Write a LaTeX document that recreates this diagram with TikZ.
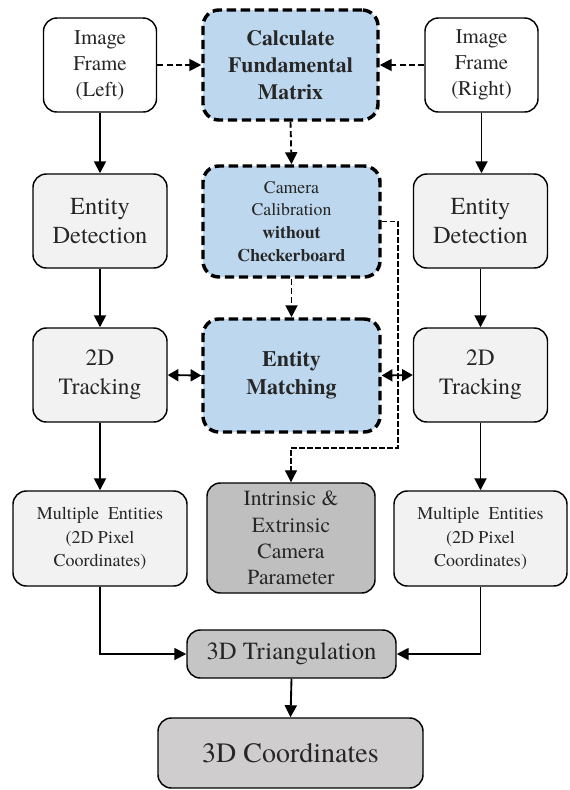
\documentclass[tikz,border=0pt]{standalone}
\usepackage{fontspec}
\setmainfont{texgyretermes}[Extension=.otf, UprightFont=*-regular, BoldFont=*-bold, ItalicFont=*-italic, BoldItalicFont=*-bolditalic]
\usetikzlibrary{arrows.meta}
\definecolor{blueF}{HTML}{BDD7EE}
\definecolor{greyL}{HTML}{F2F2F2}
\definecolor{greyD}{HTML}{BFBFBF}
\definecolor{greyT}{HTML}{C6C5C5}
\definecolor{greyC}{HTML}{CFCDCD}
\definecolor{txt}{HTML}{262626}
\newcommand\fsz[2]{\fontsize{#1}{#2}\selectfont}
\begin{document}
\begin{tikzpicture}[x=0.75pt,y=-0.75pt,
  sz/.style 2 args={minimum width=#1*0.75pt, minimum height=#2*0.75pt},
  base/.style={draw=black, rounded corners=10pt, align=center, text=txt, inner sep=1pt, line width=1.1pt},
  wbox/.style={base, fill=white},
  lbox/.style={base, fill=greyL},
  bbox/.style={base, fill=blueF, line width=2.6pt, dash pattern=on 7pt off 3.5pt, rounded corners=12pt},
  arr/.style={line width=1.4pt, -{Triangle[length=9pt,width=9pt]}},
  darr/.style={line width=1.4pt, dash pattern=on 4.5pt off 2.5pt, -{Triangle[length=9pt,width=9pt]}},
  thin/.style={line width=1pt, dash pattern=on 4pt off 2pt, -{Triangle[length=9pt,width=9pt]}},
  dbl/.style={line width=1.4pt, {Triangle[length=8pt,width=9pt]}-{Triangle[length=8pt,width=9pt]}}
]
\useasboundingbox (0,0) rectangle (569,790);

\node[wbox, sz={113}{94}, font=\fsz{15.7}{19.5}] (fL) at (100,65) {Image\\Frame\\(Left)};
\node[bbox, sz={175}{110}, font=\fsz{16.3}{20.3}\bfseries] (fund) at (290.5,65) {Calculate\\Fundamental\\Matrix};
\node[wbox, sz={113}{94}, font=\fsz{15.7}{19.5}] (fR) at (481.5,65) {Image\\Frame\\(Right)};

\node[lbox, sz={134}{94}, font=\fsz{18.3}{21.8}] (detL) at (100,221) {Entity\\Detection};
\node[bbox, sz={177}{111}, font=\fsz{13.3}{17}] (calib) at (291.5,221.5) {Camera\\Calibration\\\textbf{without}\\\textbf{Checkerboard}};
\node[lbox, sz={134}{94}, font=\fsz{18.3}{21.8}] (detR) at (480.5,221) {Entity\\Detection};

\node[lbox, sz={134}{94}, font=\fsz{17.5}{21.8}] (trkL) at (100,375) {2D\\Tracking};
\node[bbox, sz={177}{113}, font=\fsz{16.5}{21}\bfseries] (match) at (291.5,375.5) {Entity\\Matching};
\node[lbox, sz={134}{94}, font=\fsz{17.5}{21.8}] (trkR) at (480.5,375) {2D\\Tracking};

\node[lbox, sz={174}{95}, font=\fsz{13.5}{17.3}] (multL) at (100,538.5) {Multiple\hspace{0.5em}Entities\\(2D Pixel\\Coordinates)};
\node[base, fill=greyD, sz={168}{110}, font=\fsz{16.2}{19.7}] (intr) at (291,538) {Intrinsic \&\\Extrinsic\\Camera\\Parameter};
\node[lbox, sz={173}{95}, font=\fsz{13.5}{17.3}] (multR) at (480.5,538.5) {Multiple\hspace{0.5em}Entities\\(2D Pixel\\Coordinates)};

\node[base, fill=greyT, sz={209}{48}, font=\fsz{18.5}{22}] (tri) at (291.5,654) {3D Triangulation};
\node[base, fill=greyC, sz={265}{70}, font=\fsz{21}{25}] (coord) at (290.5,753) {3D Coordinates};

\coordinate (c1) at (398,448);

\draw[darr] (fL.east) -- (fund.west);
\draw[darr] (fR.west) -- (fund.east);
\draw[darr] (fund.south) -- (calib.north);
\draw[darr] (calib.south) -- (match.north);

\draw[arr] (fL.south) -- (detL.north);
\draw[arr] (detL.south) -- (trkL.north);
\draw[arr] (trkL.south) -- (multL.north);
\draw[arr] (fR.south) -- (fR.south |- detR.north);
\draw[arr] (detR.south) -- (trkR.north);
\draw[arr] (trkR.south) -- (multR.north);

\draw[thin] (calib.east) -| (c1) -| (intr.north);

\draw[dbl] (trkL.east) -- (match.west);
\draw[dbl] (match.east) -- (trkR.west);

\draw[arr] (multL.south) |- (tri.west);
\draw[arr] (multR.south) |- (tri.east);
\draw[arr] (tri.south) -- (coord.north);
\end{tikzpicture}
\end{document}
